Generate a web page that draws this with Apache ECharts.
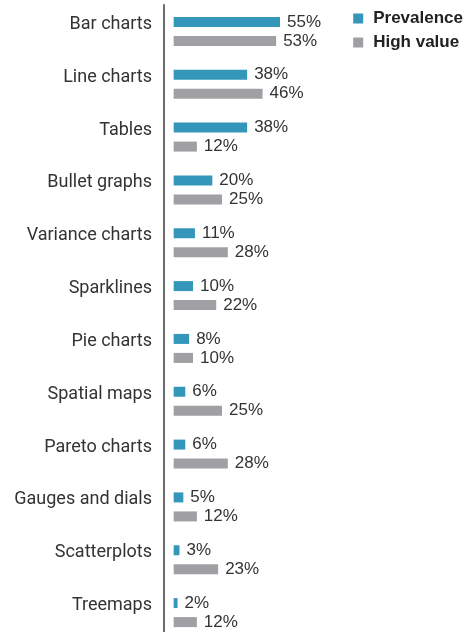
<!DOCTYPE html>
<html><head><meta charset="utf-8">
<script src="https://cdn.jsdelivr.net/npm/echarts@6/dist/echarts.min.js"></script>
<style>html,body{margin:0;padding:0;background:#fff}#c{width:465px;height:632px}</style>
</head><body><div id="c"></div>
<script>
const categories = ["Bar charts","Line charts","Tables","Bullet graphs","Variance charts","Sparklines","Pie charts","Spatial maps","Pareto charts","Gauges and dials","Scatterplots","Treemaps"];
const prevalence = [55,38,38,20,11,10,8,6,6,5,3,2];
const highValue = [53,46,12,25,28,22,10,25,28,12,23,12];

const chart = echarts.init(document.getElementById('c'), null, {renderer:'canvas'});
const labelFont = '"Liberation Sans Narrow","Arial Narrow",Arial,sans-serif';
chart.setOption({
  animation:false,
  legend:{
    orient:'vertical', right:-3, top:5,
    itemWidth:10, itemHeight:10, itemGap:7,
    icon:'rect',
    textStyle:{fontFamily:labelFont, fontWeight:'bold', fontSize:17, color:'#222', padding:[0,0,0,5]},
    data:['Prevalence','High value']
  },
  grid:{left:164, top:5, width:203, height:634, containLabel:false, outerBoundsMode:'none'},
  xAxis:{type:'value', min:-5, max:100, show:false},
  yAxis:{
    type:'category', inverse:true, data:categories,
    axisLine:{show:true, onZero:false, lineStyle:{color:'#6b6b6b', width:2}},
    axisTick:{show:false},
    axisLabel:{fontFamily:'Roboto, sans-serif', fontSize:18, color:'#333', margin:12, verticalAlign:'bottom', lineHeight:14},
    splitLine:{show:false}
  },
  series:[
    {name:'Prevalence', type:'bar', data:prevalence, barWidth:10, barGap:'90%',
     itemStyle:{color:'#3497b9'},
     label:{show:true, position:'right', distance:7, formatter:'{c}%', fontFamily:labelFont, fontSize:17, color:'#333'}},
    {name:'High value', type:'bar', data:highValue, barWidth:10,
     itemStyle:{color:'#a0a0a4'},
     label:{show:true, position:'right', distance:7, formatter:'{c}%', fontFamily:labelFont, fontSize:17, color:'#333'}}
  ]
});
</script></body></html>
